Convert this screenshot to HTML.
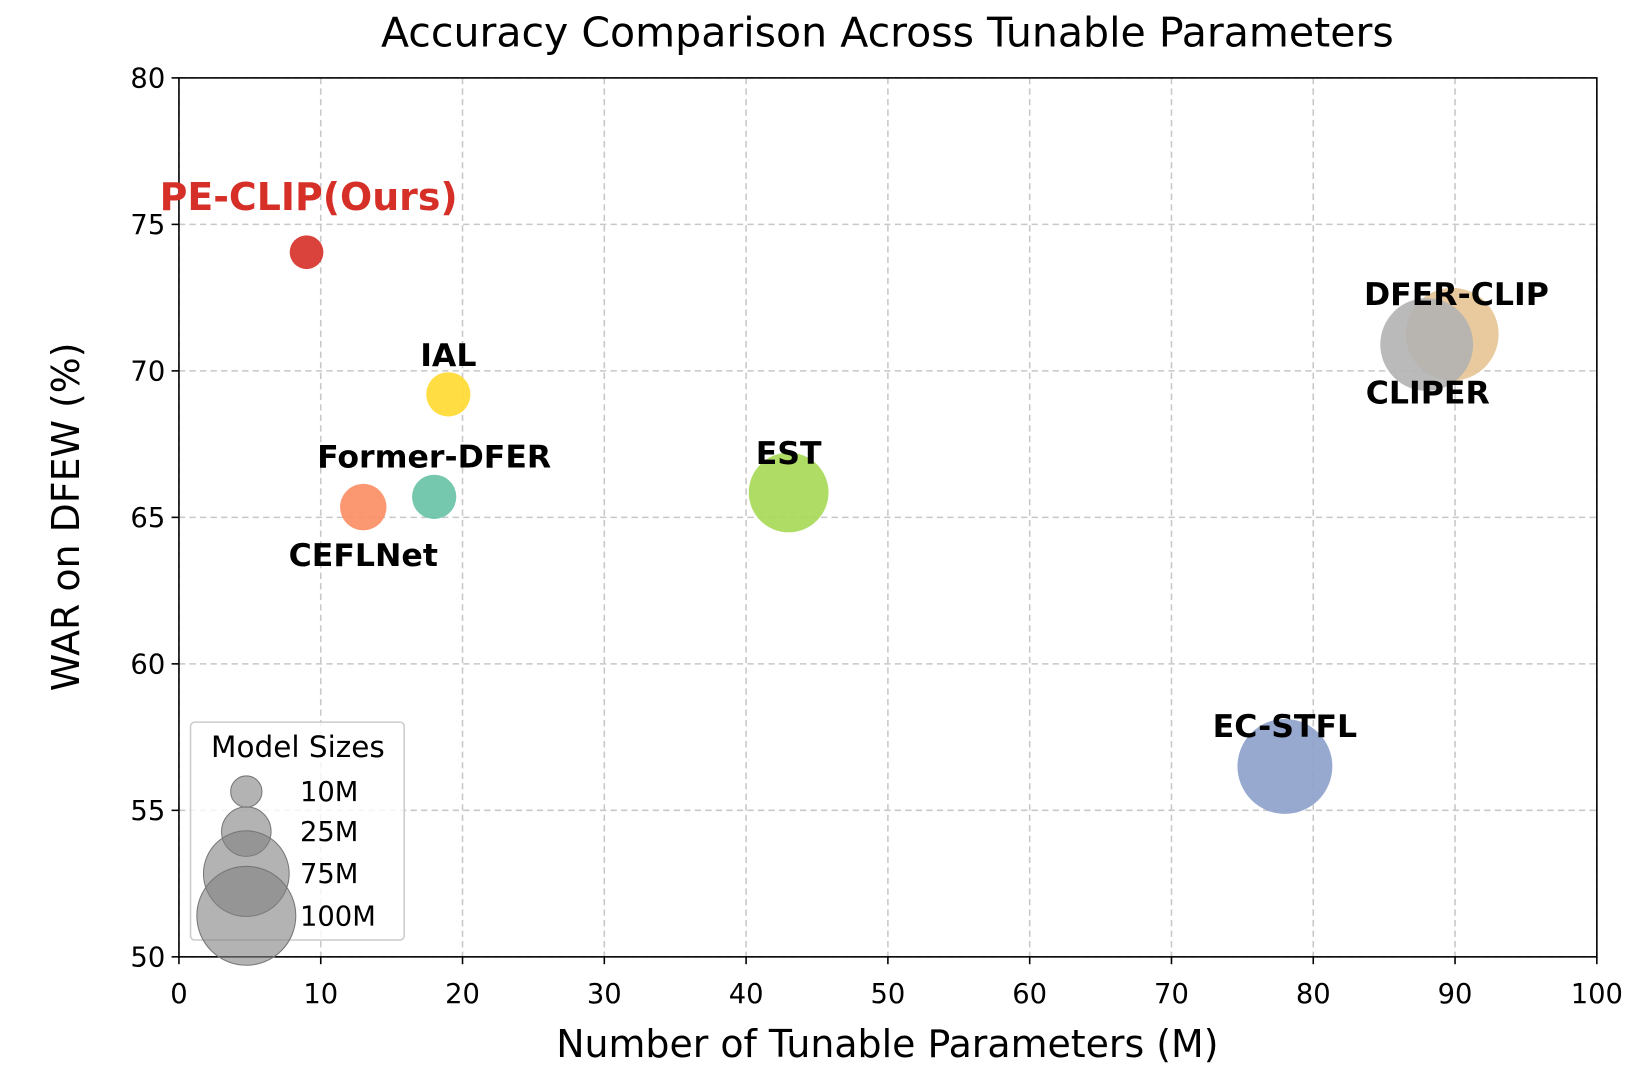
<!DOCTYPE html>
<html><head><meta charset="utf-8"><style>
body{margin:0;background:#fff}
svg{font-family:"DejaVu Sans","Liberation Sans",sans-serif}
</style></head><body>
<svg id="chart" width="1650" height="1086" xmlns="http://www.w3.org/2000/svg">
<rect width="1650" height="1086" fill="#fff"/>
<g transform="scale(1.05263)">
<text x="843" y="44" font-size="39" text-anchor="middle">Accuracy Comparison Across Tunable Parameters</text>
<g id="grid"></g><g id="axes"></g><g id="marks"></g><g id="legend"></g>
</g>
</svg>
<script>
const models=["PE-CLIP(Ours)","IAL","Former-DFER","CEFLNet","EST","EC-STFL","DFER-CLIP","CLIPER"];
const params=[9,19,18,13,43,78,89.8,88];
const war=[74.05,69.2,65.7,65.35,65.85,56.5,71.25,70.9];
const sizes=[11.6,20,20,22,65,92,88,88];
const colors=["#d62f27","#ffd92f","#66c2a5","#fc8d62","#a6d854","#8da0cb","#e5c494","#b3b3b3"];
const xTicks=[0,10,20,30,40,50,60,70,80,90,100];
const yTicks=[50,55,60,65,70,75,80];
const legendSizes=[10,25,75,100];
const legendLabels=["10M","25M","75M","100M"];
const L=170,R=1517,T=74,B=909;
const xs=v=>L+(v-0)/100*(R-L), ys=v=>B-(v-50)/30*(B-T), rs=s=>4.7*Math.sqrt(s);
const NS="http://www.w3.org/2000/svg";
function mk(p,tag,at,txt){const e=document.createElementNS(NS,tag);for(const k in at)e.setAttribute(k,at[k]);if(txt!==undefined)e.textContent=txt;document.getElementById(p).appendChild(e);return e;}
xTicks.forEach(t=>{const x=xs(t);
 const g=mk("grid","line",{x1:x,x2:x,y1:T,y2:B,stroke:"#c8c8c8","stroke-dasharray":"6,4","stroke-width":1.5});
 
 
 mk("axes","line",{x1:x,x2:x,y1:B,y2:B+7,stroke:"#000","stroke-width":1.5});
 const l=mk("axes","text",{x:x,y:B+44,"font-size":26,"text-anchor":"middle"},t);
 
 });
yTicks.forEach(t=>{const y=ys(t);
 const g=mk("grid","line",{x1:L,x2:R,y1:y,y2:y,stroke:"#c8c8c8","stroke-dasharray":"6,4","stroke-width":1.5});
 
 
 mk("axes","line",{x1:L-7,x2:L,y1:y,y2:y,stroke:"#000","stroke-width":1.5});
 const l=mk("axes","text",{x:L-13,y:y+9,"font-size":26,"text-anchor":"end"},t);
 
 });
const fr=mk("axes","rect",{x:L,y:T,width:R-L,height:B-T,fill:"none",stroke:"#000","stroke-width":1.5});


const xl=mk("axes","text",{x:843,y:1004,"font-size":36,"text-anchor":"middle"},"Number of Tunable Parameters (M)");


const yl=mk("axes","text",{x:0,y:0,"font-size":36,"text-anchor":"middle",transform:"translate(75,491) rotate(-90)"},"WAR on DFEW (%)");


// label offsets (dx, baseline dy) relative to bubble centre
const lblOff=[[2,-40],[0,-27],[0,-28],[0,56],[0,-27],[0,-28],[4,-28],[1,56]];
models.forEach((m,i)=>{
 const c=mk("marks","circle",{cx:xs(params[i]),cy:ys(war[i]),r:rs(sizes[i]),fill:colors[i],"fill-opacity":0.9});
 
 
});
models.forEach((m,i)=>{
 const red=i===0;
 const t=mk("marks","text",{x:xs(params[i])+lblOff[i][0],y:ys(war[i])+lblOff[i][1],"font-size":red?36:30,"font-weight":"bold","text-anchor":"middle",fill:red?"#d62f27":"#000"},m);
 
 
});
const lb=mk("legend","rect",{x:181,y:686,width:203,height:207,rx:4,fill:"#fff","fill-opacity":0.8,stroke:"#ccc","stroke-width":1.5});


const lt=mk("legend","text",{x:283,y:719,"font-size":28,"text-anchor":"middle"},"Model Sizes");


const ly=[752,790,830,870];
legendSizes.forEach((s,i)=>{
 const c=mk("legend","circle",{cx:234,cy:ly[i],r:rs(s),fill:"#808080","fill-opacity":0.6,stroke:"#777"});
 
 
 const t=mk("legend","text",{x:285,y:ly[i]+9,"font-size":26},legendLabels[i]);
 
 
});
</script>
</body></html>
